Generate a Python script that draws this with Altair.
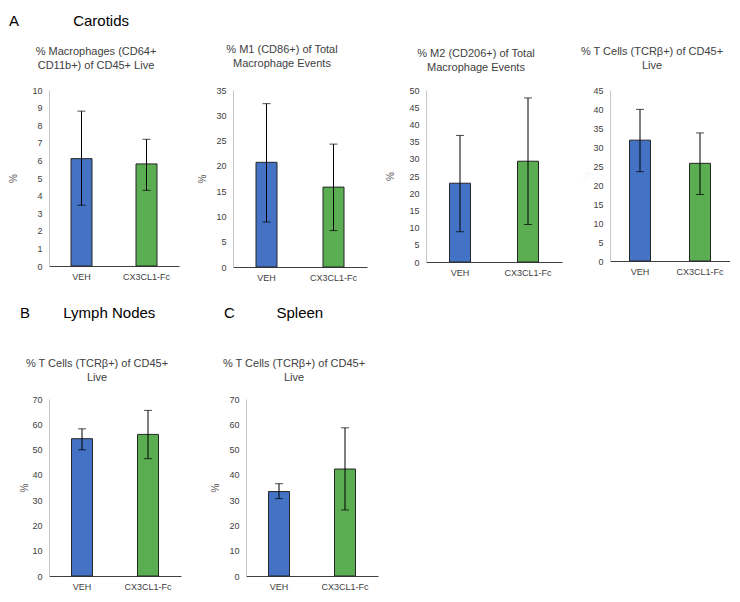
import altair as alt
import pandas as pd

groups = ["VEH", "CX3CL1-Fc"]
bar_colors = ["#4472C4", "#5BAD52"]

# Carotids
mac_mean = [6.1, 5.8]
mac_lo = [3.45, 4.3]
mac_hi = [8.8, 7.2]
m1_mean = [20.7, 15.8]
m1_lo = [8.9, 7.2]
m1_hi = [32.3, 24.3]
m2_mean = [22.9, 29.3]
m2_lo = [8.8, 10.9]
m2_hi = [36.8, 47.7]
tcar_mean = [31.8, 25.7]
tcar_lo = [23.5, 17.5]
tcar_hi = [39.9, 33.7]
# Lymph nodes
tln_mean = [54.3, 56.0]
tln_lo = [49.9, 46.4]
tln_hi = [58.2, 65.5]
# Spleen
tsp_mean = [33.4, 42.3]
tsp_lo = [30.6, 26.1]
tsp_hi = [36.5, 58.6]

ticks_10 = list(range(0, 11, 1))
ticks_35 = list(range(0, 36, 5))
ticks_50 = list(range(0, 51, 5))
ticks_45 = list(range(0, 46, 5))
ticks_70 = list(range(0, 71, 10))

FONT = "Liberation Sans"


def panel(title, mean, lo, hi, ticks, width, height, title_offset, title_pad, title_opacity=1):
    df = pd.DataFrame({"group": groups, "mean": mean, "lo": lo, "hi": hi})
    ymax = ticks[-1]
    yscale = alt.Scale(domain=[0, ymax], nice=False, zero=True)
    x = alt.X(
        "group:N",
        sort=groups,
        title=None,
        scale=alt.Scale(paddingInner=0, paddingOuter=0),
        axis=alt.Axis(labelAngle=0, ticks=False, tickSize=0, domainColor="#404040",
                      labelPadding=6, labelFontSize=9, labelColor="#404040", labelFont=FONT),
    )
    yaxis = alt.Axis(values=ticks, ticks=False, tickSize=0, grid=False, domainColor="#c8c8c8",
                     labelOverlap=False, labelFlush=False, labelBound=False,
                     labelPadding=7, labelFontSize=9, labelColor="#404040", labelFont=FONT,
                     titleFontSize=10, titleFont=FONT, titleFontWeight="normal",
                     titleColor="#595959", titlePadding=title_pad, titleOpacity=title_opacity)

    def Y(field):
        return alt.Y(field, scale=yscale, axis=yaxis, title="%")

    base = alt.Chart(df).encode(x=x)
    bars = base.mark_bar(size=21, stroke="#262626", strokeWidth=1).encode(
        y=Y("mean:Q"),
        color=alt.Color("group:N", scale=alt.Scale(domain=groups, range=bar_colors), legend=None),
    )
    rule = base.mark_rule(color="black", strokeWidth=1).encode(y=Y("lo:Q"), y2="hi:Q")
    cap_lo = base.mark_tick(size=8, thickness=1, color="black").encode(y=Y("lo:Q"))
    cap_hi = base.mark_tick(size=8, thickness=1, color="black").encode(y=Y("hi:Q"))
    return alt.layer(bars, rule, cap_lo, cap_hi).properties(
        width=width,
        height=height,
        title=alt.TitleParams(title, fontSize=11, fontWeight="normal", font=FONT,
                              color="#404040", lineHeight=14, offset=title_offset, dx=-18),
    )


p1 = panel(["% Macrophages (CD64+", "CD11b+) of CD45+ Live"], mac_mean, mac_lo, mac_hi,
           ticks_10, 130, 176, 15, 13)
p2 = panel(["% M1 (CD86+) of Total", "Macrophage Events"], m1_mean, m1_lo, m1_hi,
           ticks_35, 134, 177, 17, 8)
p3 = panel(["% M2 (CD206+) of Total", "Macrophage Events"], m2_mean, m2_lo, m2_hi,
           ticks_50, 136, 172, 13, 13)
p4 = panel(["% T Cells (TCRβ+) of CD45+", "Live"], tcar_mean, tcar_lo, tcar_hi,
           ticks_45, 120, 171, 15, 0, title_opacity=0.08)
pb = panel(["% T Cells (TCRβ+) of CD45+", "Live"], tln_mean, tln_lo, tln_hi,
           ticks_70, 132, 177, 12, 2)
pc = panel(["% T Cells (TCRβ+) of CD45+", "Live"], tsp_mean, tsp_lo, tsp_hi,
           ticks_70, 132, 177, 12, 8)

NB = "\u00a0"
SEC = dict(fontSize=15, fontWeight="normal", font=FONT, color="black", anchor="start")

row1 = alt.hconcat(p1, p2, p3, p4, spacing=18).properties(
    title=alt.TitleParams("A" + NB * 13 + "Carotids", offset=15, **SEC)
)
wb = alt.vconcat(pb).properties(
    title=alt.TitleParams("B" + NB * 8 + "Lymph Nodes", offset=37, **SEC)
)
wc = alt.vconcat(pc).properties(
    title=alt.TitleParams("C" + NB * 10 + "Spleen", offset=37, dx=13, **SEC)
)
row2 = alt.hconcat(wb, wc, spacing=29)

chart = alt.vconcat(row1, row2, spacing=24).properties(
    padding={"left": 0, "top": 6, "right": 0, "bottom": 0}
).configure_view(strokeWidth=0, stroke="transparent")

chart.save("out.html", embed_options={"renderer": "svg", "actions": False})
